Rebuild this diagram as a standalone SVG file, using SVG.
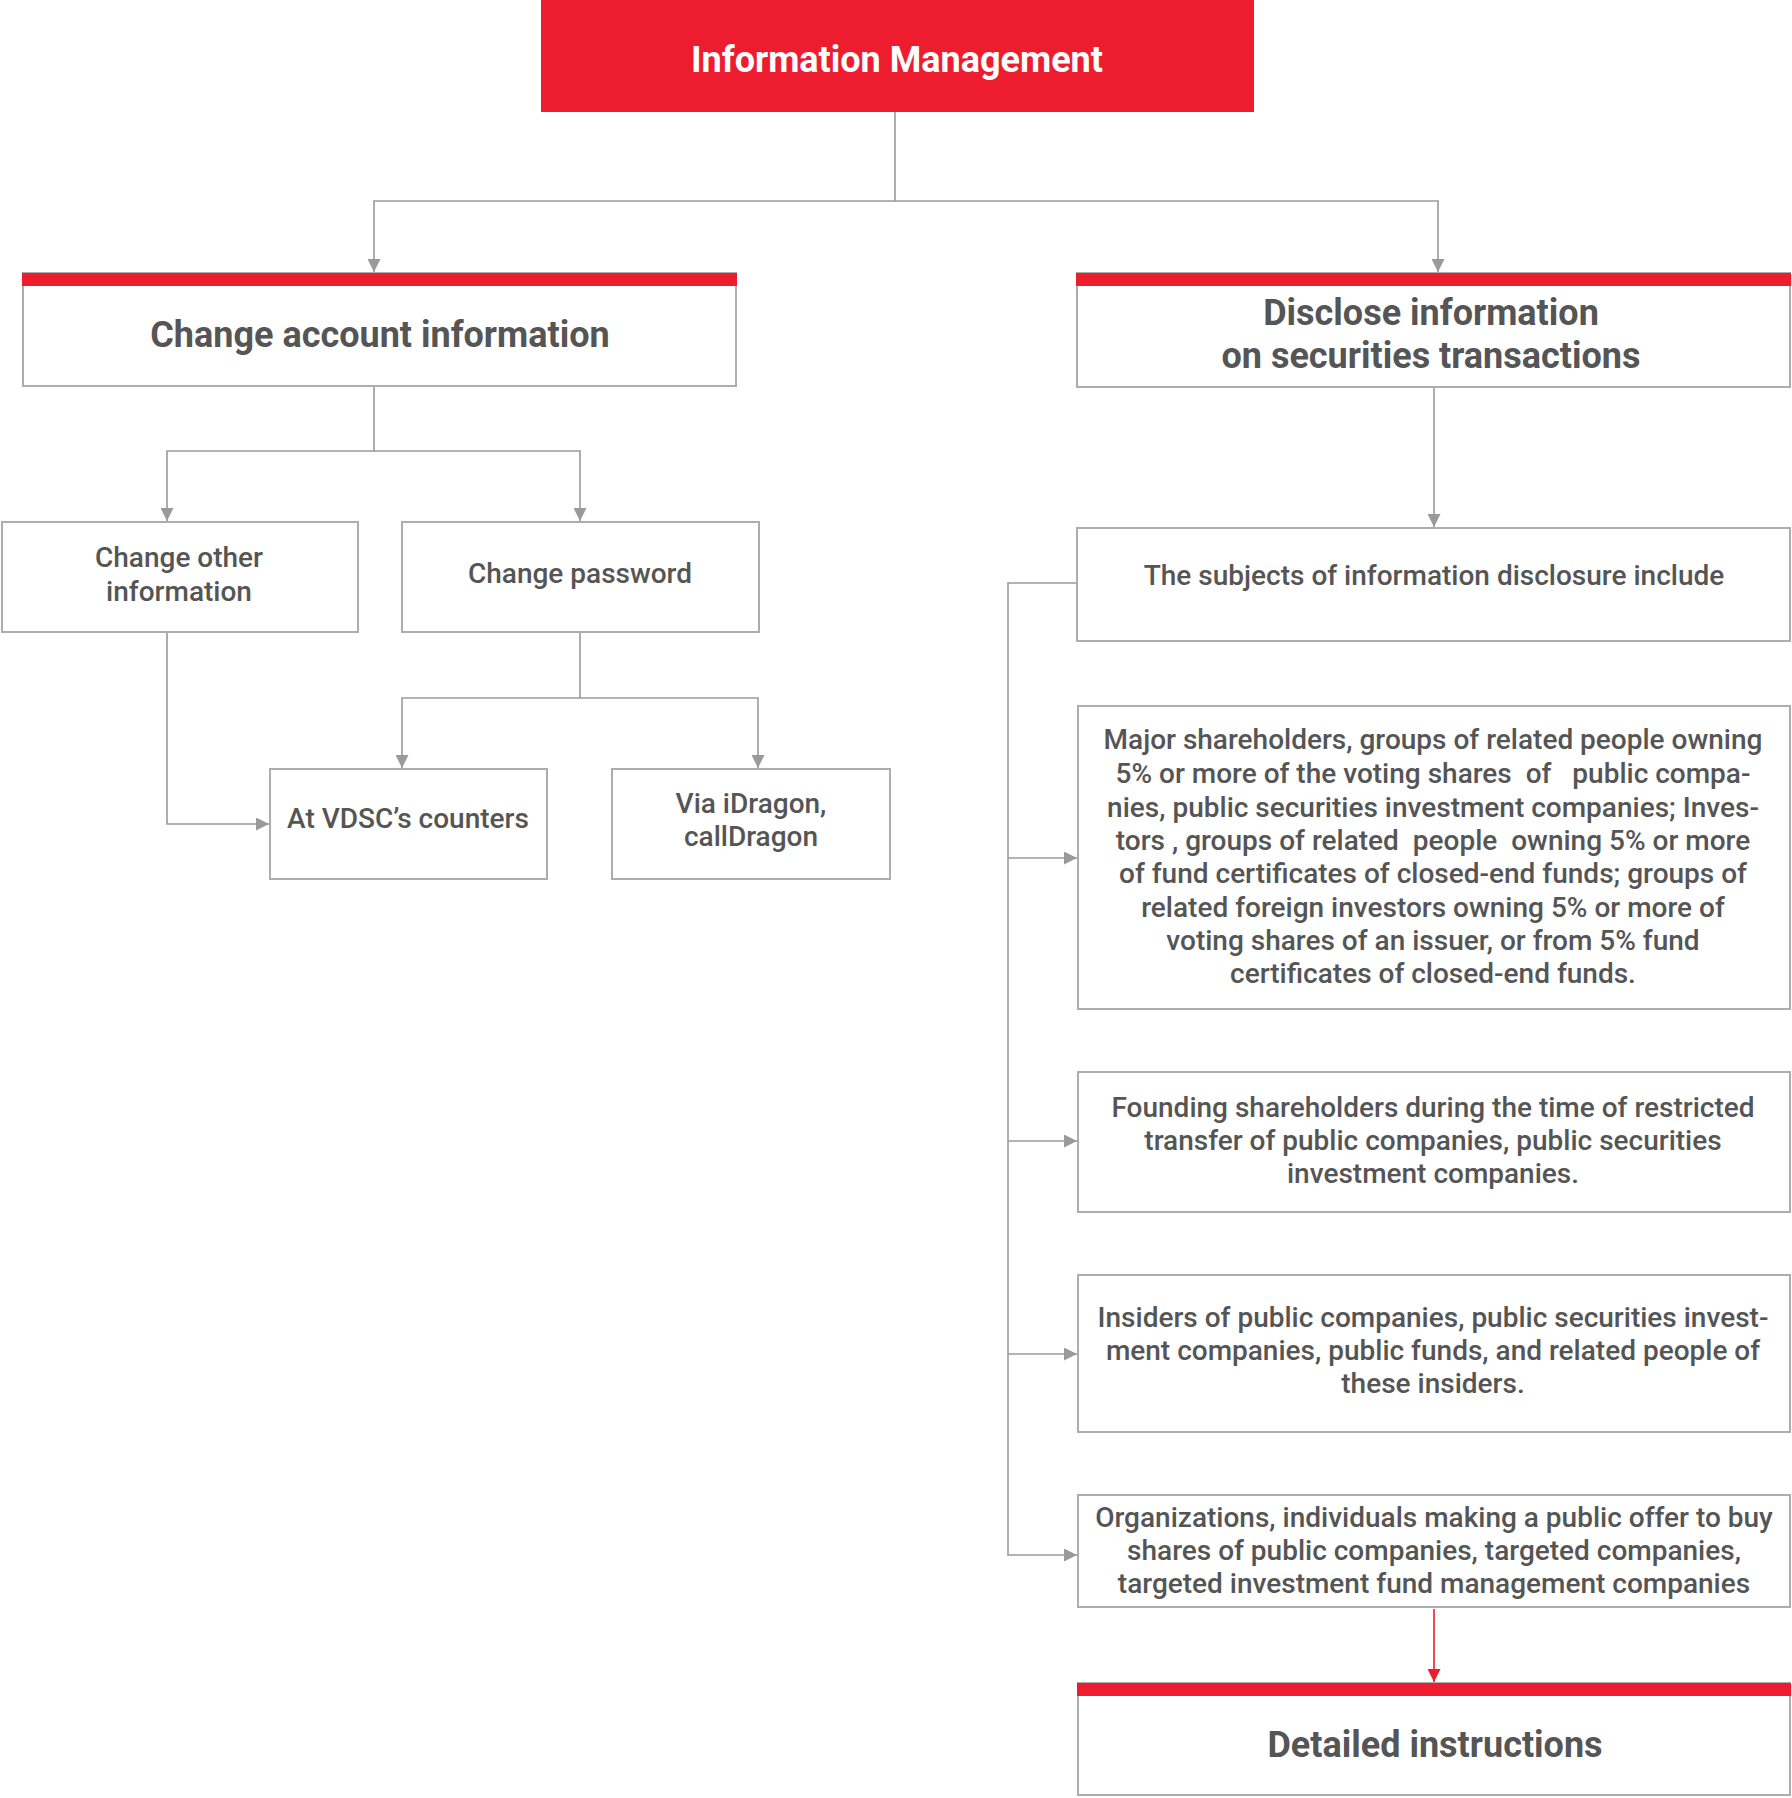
<svg xmlns="http://www.w3.org/2000/svg" width="1792" height="1798" viewBox="0 0 1792 1798">
<style>
.box{fill:#fff;stroke:#adadad;stroke-width:2}
.bar{fill:#ED1C2E}
.t{font-family:Roboto,"Liberation Sans",sans-serif;fill:#555555;text-anchor:middle;font-weight:500}
.s{font-size:28px}
.b{font-size:36px;font-weight:700}
.w{fill:#ffffff;font-size:36px;font-weight:700}
.ln{fill:none;stroke:#9a9a9a;stroke-width:1.6}
.red{fill:none;stroke:#ED1C2E;stroke-width:1.6}
.pre{white-space:pre}
</style>
<defs>
<marker id="ag" markerUnits="userSpaceOnUse" markerWidth="13" markerHeight="13" refX="13" refY="6.5" orient="auto" viewBox="0 0 13 13">
<path d="M0,0 L13,6.5 L0,13 z" fill="#9a9a9a"/>
</marker>
<marker id="ar" markerUnits="userSpaceOnUse" markerWidth="13" markerHeight="13" refX="13" refY="6.5" orient="auto" viewBox="0 0 13 13">
<path d="M0,0 L13,6.5 L0,13 z" fill="#ED1C2E"/>
</marker>
</defs>
<g id="connectors">
<path class="ln" d="M895 112 V201 H374 V272" marker-end="url(#ag)"/>
<path class="ln" d="M895 201 H1438 V272" marker-end="url(#ag)"/>
<path class="ln" d="M374 386 V451 H167 V521" marker-end="url(#ag)"/>
<path class="ln" d="M374 451 H580 V521" marker-end="url(#ag)"/>
<path class="ln" d="M167 632 V824 H269" marker-end="url(#ag)"/>
<path class="ln" d="M580 632 V698 H402 V768" marker-end="url(#ag)"/>
<path class="ln" d="M580 698 H758 V768" marker-end="url(#ag)"/>
<path class="ln" d="M1434 387 V527" marker-end="url(#ag)"/>
<path class="ln" d="M1077 583 H1008 V1555 H1077" marker-end="url(#ag)"/>
<path class="ln" d="M1008 858 H1077" marker-end="url(#ag)"/>
<path class="ln" d="M1008 1141 H1077" marker-end="url(#ag)"/>
<path class="ln" d="M1008 1354 H1077" marker-end="url(#ag)"/>
<path class="red" d="M1434 1609 V1682" marker-end="url(#ar)"/>
</g>
<g id="n-root">
<rect x="541" y="0" width="713" height="112" fill="#ED1C2E"/>
<text class="t w" x="897" y="72">Information Management</text>
</g>
<g id="n-change-account">
<rect class="box" x="23" y="273" width="713" height="113"/>
<rect class="bar" x="22" y="273" width="715" height="13"/>
<text class="t b" x="380" y="347">Change account information</text>
</g>
<g id="n-disclose">
<rect class="box" x="1077" y="273" width="713" height="114"/>
<rect class="bar" x="1076" y="273" width="715" height="13"/>
<text class="t b" x="1431" y="325">Disclose information</text>
<text class="t b" x="1431" y="368">on securities transactions</text>
</g>
<g id="n-change-other">
<rect class="box" x="2" y="522" width="356" height="110"/>
<text class="t s" x="179" y="567">Change other</text>
<text class="t s" x="179" y="601">information</text>
</g>
<g id="n-change-password">
<rect class="box" x="402" y="522" width="357" height="110"/>
<text class="t s" x="580" y="583">Change password</text>
</g>
<g id="n-vdsc">
<rect class="box" x="270" y="769" width="277" height="110"/>
<text class="t s" x="408" y="828">At VDSC’s counters</text>
</g>
<g id="n-idragon">
<rect class="box" x="612" y="769" width="278" height="110"/>
<text class="t s" x="751" y="813">Via iDragon,</text>
<text class="t s" x="751" y="846">callDragon</text>
</g>
<g id="n-subjects">
<rect class="box" x="1077" y="528" width="713" height="113"/>
<text class="t s" x="1434" y="585">The subjects of information disclosure include</text>
</g>
<g id="n-major">
<rect class="box" x="1078" y="706" width="712" height="303"/>
<text class="t s pre" x="1433" y="749">Major shareholders, groups of related people owning</text>
<text class="t s pre" x="1433" y="783">5% or more of the voting shares  of   public compa-</text>
<text class="t s pre" x="1433" y="817">nies, public securities investment companies; Inves-</text>
<text class="t s pre" x="1433" y="850">tors , groups of related  people  owning 5% or more</text>
<text class="t s pre" x="1433" y="883">of fund certificates of closed-end funds; groups of</text>
<text class="t s pre" x="1433" y="917">related foreign investors owning 5% or more of</text>
<text class="t s pre" x="1433" y="950">voting shares of an issuer, or from 5% fund</text>
<text class="t s pre" x="1433" y="983">certificates of closed-end funds.</text>
</g>
<g id="n-founding">
<rect class="box" x="1078" y="1072" width="712" height="140"/>
<text class="t s" x="1433" y="1117">Founding shareholders during the time of restricted</text>
<text class="t s" x="1433" y="1150">transfer of public companies, public securities</text>
<text class="t s" x="1433" y="1183">investment companies.</text>
</g>
<g id="n-insiders">
<rect class="box" x="1078" y="1275" width="712" height="157"/>
<text class="t s" x="1433" y="1327">Insiders of public companies, public securities invest-</text>
<text class="t s" x="1433" y="1360">ment companies, public funds, and related people of</text>
<text class="t s" x="1433" y="1393">these insiders.</text>
</g>
<g id="n-organizations">
<rect class="box" x="1078" y="1495" width="712" height="112"/>
<text class="t s" x="1434" y="1527">Organizations, individuals making a public offer to buy</text>
<text class="t s" x="1434" y="1560">shares of public companies, targeted companies,</text>
<text class="t s" x="1434" y="1593">targeted investment fund management companies</text>
</g>
<g id="n-detailed">
<rect class="box" x="1078" y="1683" width="712" height="112"/>
<rect class="bar" x="1077" y="1683" width="714" height="13"/>
<text class="t b" x="1435" y="1757">Detailed instructions</text>
</g>
</svg>
